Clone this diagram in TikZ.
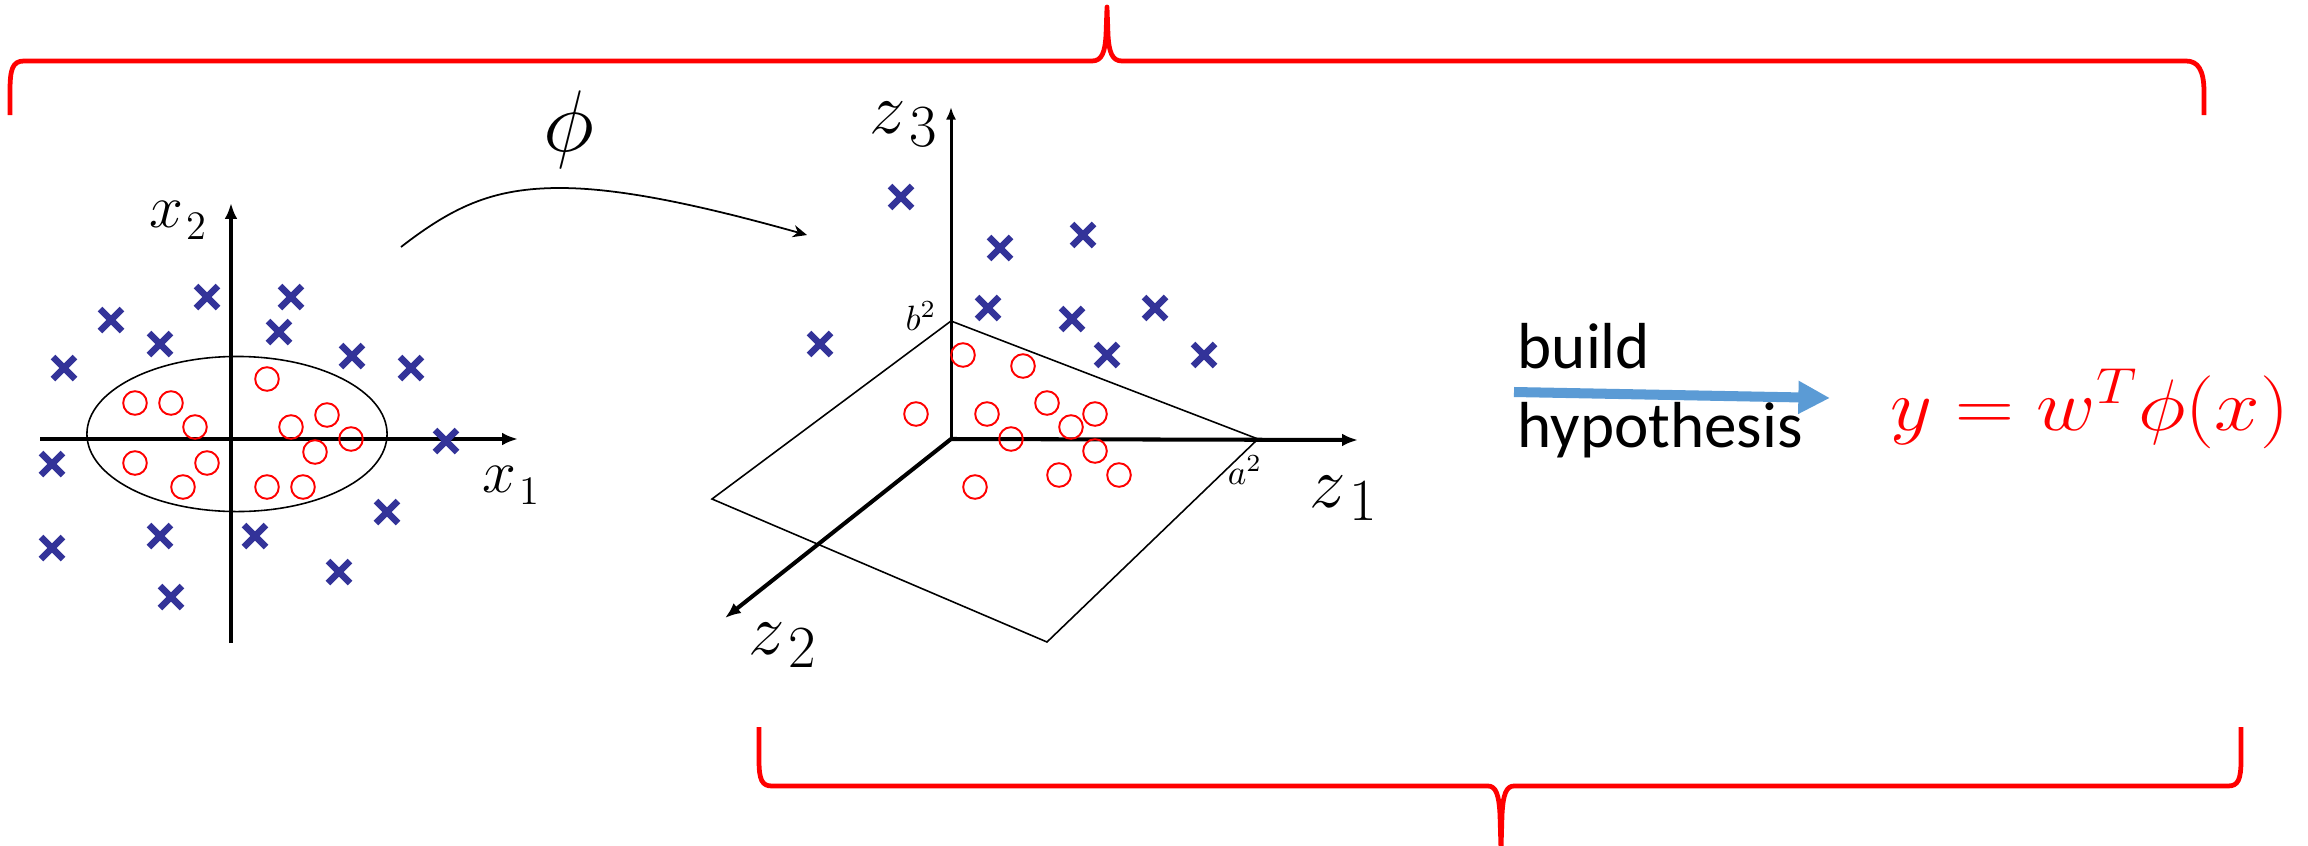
\documentclass[tikz,border=0pt]{standalone}
\usepackage{fontspec}
\newfontfamily\calibri{Carlito}
\usepackage{graphicx}
\usetikzlibrary{arrows.meta}
\definecolor{xblue}{RGB}{51,51,153}
\definecolor{arrowblue}{RGB}{91,155,213}
% axis label: letter at #1 pt, digit at #3 pt lowered by #5
\newcommand{\axlab}[5]{{\fontsize{#1}{#1}\selectfont$#2$}\kern1pt\raisebox{-#5}{\fontsize{#3}{#3}\selectfont #4}}
\begin{document}
\begin{tikzpicture}[x=0.01cm,y=-0.01cm,
  cross/.style={xblue,line width=1.9pt},
  ring/.style={red,line width=0.55pt},
  thinln/.style={black,line width=0.45pt},
  bigaxis/.style={black,line width=1.15pt,-{Latex[length=4.5pt,width=3.6pt]}},
  smallaxis/.style={black,line width=0.85pt,-{Latex[length=3.6pt,width=2.9pt]}},
  brace/.style={red,line width=1.35pt,line join=round},
  lbl/.style={inner sep=0pt}]
\useasboundingbox (0,0) rectangle (2308,845);

% ---------- braces ----------
\draw[brace] (10,115) -- (10,92) .. controls (10,70) and (12,61) .. (24,61) -- (1092,61)
  .. controls (1102,61) and (1105,52) .. (1106,35) -- (1107,7) -- (1108,35)
  .. controls (1109,52) and (1112,61) .. (1122,61) -- (2186,61)
  .. controls (2198,61) and (2204,70) .. (2204,92) -- (2204,115);
\draw[brace] (759,727) -- (759,760) .. controls (759,780) and (762,786) .. (772,786) -- (1488,786)
  .. controls (1496,786) and (1499,795) .. (1500,815) -- (1501,850) -- (1502,815)
  .. controls (1503,795) and (1506,786) .. (1514,786) -- (2228,786)
  .. controls (2238,786) and (2241,780) .. (2241,760) -- (2241,727);

% ---------- left plot ----------
\draw[thinln] (237,434) ellipse [x radius=1.5cm, y radius=0.775cm];
\draw[bigaxis] (40,439) -- (518,439);
\draw[bigaxis] (231,643) -- (231,203);
\node[lbl] (x2) at (178,220) {\axlab{16}{x}{11.5}{2}{3.4pt}};
\node[lbl] (x1) at (511,485) {\axlab{16}{x}{11.5}{1}{3.4pt}};
\foreach \x/\y in {267/379,135/403,171/403,195/427,327/415,291/427,351/439,315/452,
                   135/463,207/463,183/487,267/487,303/487}
  \draw[ring] (\x,\y) circle [radius=0.118cm];
\foreach \x/\y in {207/297,291/297,111/320,160/344,279/332,64/368,352/356,411/368,
                   446/441,52/464,52/548,160/536,255/536,387/512,339/572,171/597}
  \draw[cross] (\x-11,\y-11) -- (\x+11,\y+11) (\x-11,\y+11) -- (\x+11,\y-11);

% ---------- phi map ----------
\coordinate (phs) at (401,247);
\coordinate (phe) at (807,235);
\draw[black,line width=0.5pt,-{Stealth[length=4pt,width=3.5pt]}] (phs)
  .. controls (455,205) and (495,188) .. (560,188)
  .. controls (620,188) and (700,205) .. (phe);
\node[lbl] (phi) at (569,130) {\fontsize{23}{27}\selectfont $\phi$};

% ---------- 3D plot ----------
\draw[thinln] (951,321) -- (1258,439) -- (1047,642) -- (712,499) -- cycle;
\coordinate (o) at (951,439);
\draw[smallaxis] (o) -- (951,107);
\draw[bigaxis] (o) -- (1358,440);
\draw[bigaxis] (o) -- (725,618);
\node[lbl] (z3) at (903,125) {\axlab{20}{z}{17}{3}{3.7pt}};
\node[lbl] (z2) at (782,645) {\axlab{20}{z}{17}{2}{3.7pt}};
\node[lbl] (z1) at (1343,498) {\axlab{20}{z}{17}{1}{3.7pt}};
\node[lbl] (b2) at (921,316) {\fontsize{10}{12}\selectfont $b^2$};
\node[lbl] (a2) at (1245,470) {\fontsize{10}{12}\selectfont $a^2$};
\foreach \x/\y in {963/355,1023/366,1047/403,987/414,916/414,1095/414,1071/427,
                   1011/439,1095/451,1059/475,1119/475,975/487}
  \draw[ring] (\x,\y) circle [radius=0.118cm];
\foreach \x/\y in {901/197,1000/248,1083/235,988/308,1072/319,1155/308,820/344,
                   1107/355,1204/355}
  \draw[cross] (\x-11,\y-11) -- (\x+11,\y+11) (\x-11,\y+11) -- (\x+11,\y-11);

% ---------- build hypothesis ----------
\node[lbl,anchor=base west] (build) at (1517,368) {\calibri\fontsize{18.5}{22}\selectfont build};
\node[lbl,anchor=base west] (hyp) at (1517,447) {\calibri\fontsize{18.5}{22}\selectfont hypothesis};
\coordinate (bs) at (1514,392);
\coordinate (be) at (1830,398);
\draw[arrowblue,line width=2.85pt,-{Triangle[length=9pt,width=8.8pt]}] (bs) -- (be);
\node[lbl,anchor=base west,text=red] (formula) at (1890,430)
  {\fontsize{20}{24}\selectfont\scalebox{1.12}[1]{$y = w^{T}\phi(x)$}};
\end{tikzpicture}
\end{document}
